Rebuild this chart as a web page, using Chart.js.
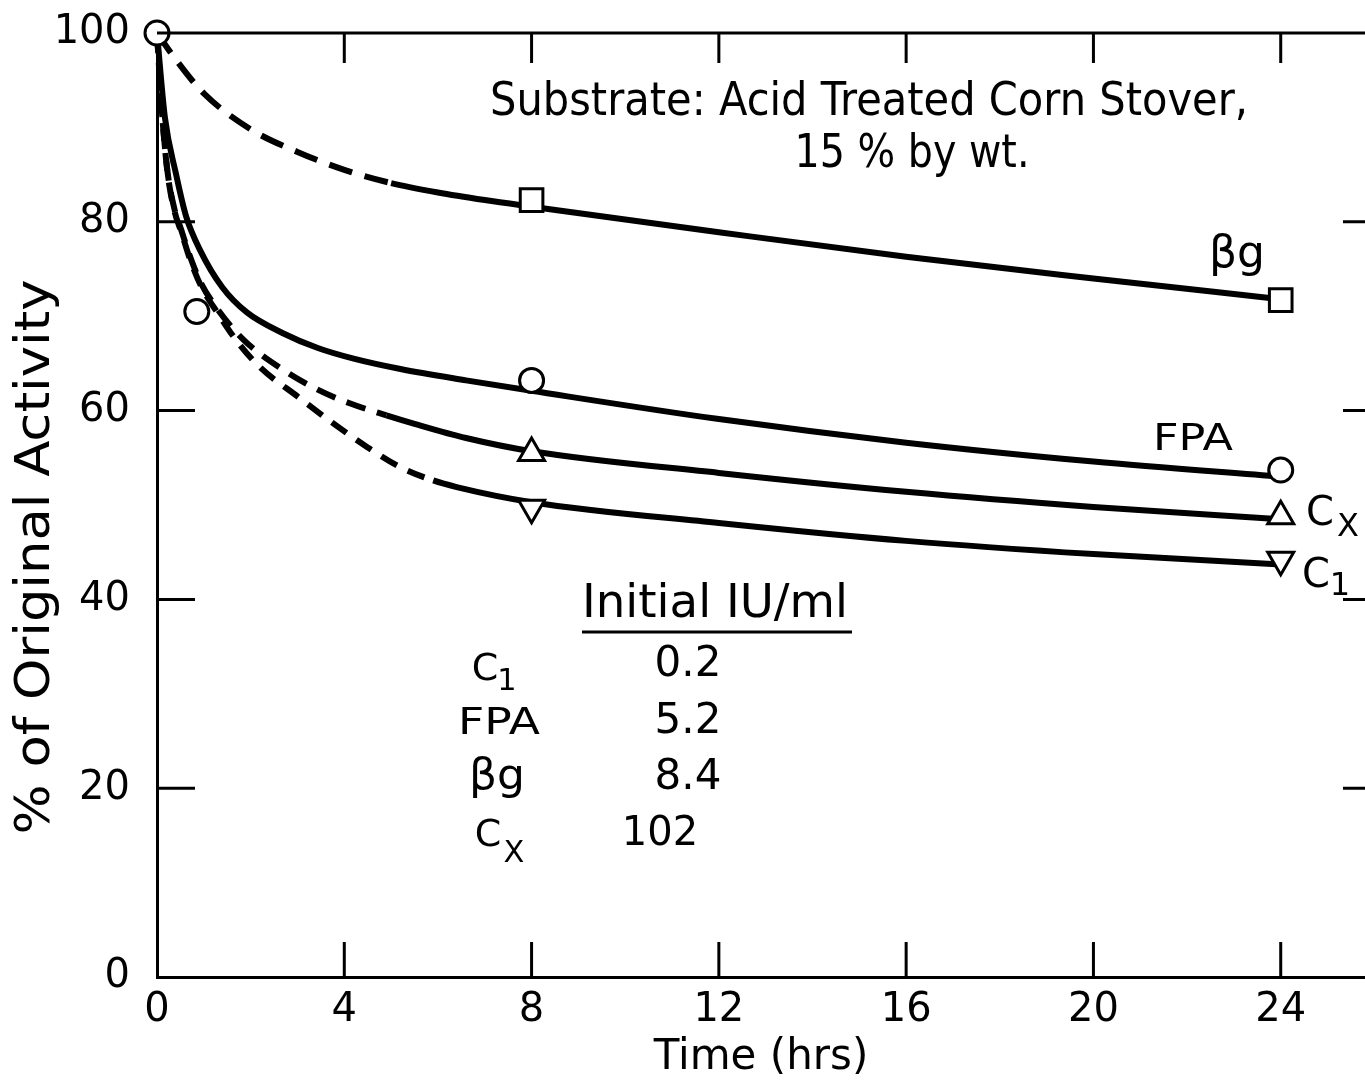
<!DOCTYPE html>
<html>
<head>
<meta charset="utf-8">
<title>Activity loss on acid treated corn stover</title>
<script src="https://cdn.jsdelivr.net/npm/chart.js@4.4.1/dist/chart.umd.min.js"></script>
<style>
  html, body { margin: 0; padding: 0; background: #fff; overflow: hidden; }
  #wrap { width: 1365px; height: 1087px; }
</style>
</head>
<body>
<div id="wrap"><canvas id="chart" width="1365" height="1087"></canvas></div>
<script>
/* axis ticks */
const xTicks = [0, 4, 8, 12, 16, 20, 24];
const yTicks = [0, 20, 40, 60, 80, 100];

/* measured points (open symbols), [hrs, % activity] */
const bgPoints  = [[8, 82.3], [24, 71.7]];
const fpaPoints = [[0, 100], [0.85, 70.5], [8, 63.2], [24, 53.7]];
const cxPoints  = [[8, 55.5], [24, 48.8]];
const c1Points  = [[8, 49.7], [24, 44.2]];

/* drawn curves */
const bgCurve  = [[0, 100], [0.4, 97.2], [1, 93.6], [2, 89.8], [3, 87.4], [4, 85.5], [5, 84.1], [6, 83.1],
                  [7, 82.3], [8, 81.6], [12, 78.9], [16, 76.3], [20, 74], [24, 71.8]];
const fpaCurve = [[0, 100], [0.17, 91], [0.4, 85.2], [0.62, 80.6], [0.93, 76.9], [1.39, 73.1], [1.92, 70.4],
                  [2.69, 68.2], [3.45, 66.6], [4.2, 65.5], [5.2, 64.4], [6.6, 63.2], [8, 62.1],
                  [12, 59.1], [16, 56.6], [20, 54.6], [24, 53]];
const cxCurve  = [[0, 100], [0.1, 92], [0.22, 85.5], [0.37, 81.4], [0.52, 79.1], [0.7, 76.4], [0.93, 73.6],
                  [1.3, 70.7], [1.85, 67.5], [2.7, 64.3], [3.4, 62.3], [4.1, 60.8], [4.9, 59.5], [5.5, 58.6],
                  [6.6, 57.1], [8, 55.7], [12, 53.4], [16, 51.4], [20, 49.8], [24, 48.5]];
const c1Curve  = [[0, 100], [0.1, 92], [0.22, 85.4], [0.37, 81.2], [0.52, 78.9], [0.7, 76.1], [0.93, 73.3],
                  [1.3, 70.3], [1.7, 67.4], [2.2, 64.6], [3, 61.5], [3.75, 58.7], [4.5, 56.1], [5.2, 54],
                  [5.9, 52.6], [6.4, 51.9], [8, 50.3], [12, 48.1], [16, 46.2], [20, 44.8], [24, 43.7]];

/* inset table */
const tableNames  = ['C1', 'FPA', 'βg', 'Cx'];
const tableValues = ['0.2', '5.2', '8.4', '102'];

const FONT = '"DejaVu Sans", sans-serif';
const toXY = arr => arr.map(p => ({ x: p[0], y: p[1] }));

function marker(data, style, radius, rotation) {
  return {
    data: toXY(data), showLine: false, order: 0, clip: false,
    pointStyle: style, pointRadius: radius, pointRotation: rotation || 0,
    pointBorderWidth: 3, pointBorderColor: '#000', pointBackgroundColor: '#fff'
  };
}

function curve(data, dashEnd, dash) {
  return {
    data: toXY(data), showLine: true, order: 1, clip: false,
    pointRadius: 0, borderColor: '#000', borderWidth: 6,
    cubicInterpolationMode: 'monotone',
    segment: {
      borderDash: ctx => (ctx.p1.parsed.x <= dashEnd ? dash : undefined)
    }
  };
}

// text helper, squeezes the text to a given width when asked
function put(ctx, txt, x, y, size, w, align) {
  ctx.save();
  ctx.font = size + 'px ' + FONT;
  ctx.fillStyle = '#000';
  ctx.textAlign = align || 'center';
  ctx.textBaseline = 'middle';
  let sx = 1;
  if (w) sx = w / ctx.measureText(txt).width;
  ctx.translate(x, y);
  ctx.scale(sx, 1);
  ctx.fillText(txt, 0, 0);
  ctx.restore();
}

// letter with a subscript
function sub(ctx, main, small, x, y, size, dx, dy) {
  put(ctx, main, x, y, size);
  put(ctx, small, x + dx, y + dy, size * 0.8);
}

const extras = {
  id: 'extras',
  afterDraw(chart) {
    const ctx = chart.ctx;
    const a = chart.chartArea;
    const sx = chart.scales.x, sy = chart.scales.y;
    ctx.save();
    ctx.strokeStyle = '#000';
    ctx.lineWidth = 3;
    ctx.beginPath();
    // top frame
    ctx.moveTo(a.left, a.top);
    ctx.lineTo(a.right, a.top);
    // inward ticks, top and bottom
    xTicks.forEach(v => {
      if (v === 0) return;
      const px = sx.getPixelForValue(v);
      ctx.moveTo(px, a.bottom); ctx.lineTo(px, a.bottom - 35);
      ctx.moveTo(px, a.top); ctx.lineTo(px, a.top + 30);
    });
    // inward ticks, left and right
    yTicks.forEach(v => {
      if (v === 0 || v === 100) return;
      const py = sy.getPixelForValue(v);
      ctx.moveTo(a.left, py); ctx.lineTo(a.left + 38, py);
      ctx.moveTo(a.right - 22, py); ctx.lineTo(a.right, py);
    });
    // underline of the table head
    ctx.moveTo(582, 632); ctx.lineTo(852, 632);
    ctx.stroke();
    ctx.restore();

    // y axis title
    ctx.save();
    ctx.translate(37, 557);
    ctx.rotate(-Math.PI / 2);
    put(ctx, '% of Original Activity', 0, 0, 48, 555);
    ctx.restore();

    put(ctx, 'Substrate: Acid Treated Corn Stover,', 869, 103, 46, 758);
    put(ctx, '15 % by wt.', 912, 155, 46, 235);

    // curve labels
    put(ctx, 'βg', 1237, 256, 44, 56);
    put(ctx, 'FPA', 1193, 440, 38, 80);
    sub(ctx, 'C', 'X', 1320, 515, 40, 28, 13);
    sub(ctx, 'C', '1', 1316, 577, 40, 24, 10);

    // inset table
    put(ctx, 'Initial IU/ml', 715, 605, 46, 266);
    const rowY = [665, 722, 778, 835];
    sub(ctx, 'C', '1', 485, 670, 38, 22, 12);
    put(ctx, tableNames[1], 499, 724, 38, 82);
    put(ctx, tableNames[2], 497, 778, 42, 56);
    sub(ctx, 'C', 'X', 488, 836, 38, 26, 18);
    tableValues.forEach((t, i) => {
      put(ctx, t, i === 3 ? 660 : 688, rowY[i], i === 3 ? 40 : 42);
    });
  }
};

new Chart(document.getElementById('chart'), {
  type: 'scatter',
  data: {
    datasets: [
      marker(bgPoints, 'rect', 16),
      marker(fpaPoints, 'circle', 12),
      marker(cxPoints, 'triangle', 15),
      marker(c1Points, 'triangle', 15, 180),
      curve(bgCurve, 5.2, [24, 13]),
      curve(fpaCurve, -1, []),
      curve(cxCurve, 5.3, [20, 12]),
      curve(c1Curve, 6.1, [18, 12])
    ]
  },
  options: {
    responsive: false,
    animation: false,
    layout: { autoPadding: false, padding: { top: 33, right: 0, left: 0, bottom: 0 } },
    plugins: { legend: { display: false }, tooltip: { enabled: false } },
    scales: {
      x: {
        type: 'linear', min: 0, max: 25.8,
        grid: { display: false, drawTicks: false },
        border: { display: true, width: 3, color: '#000' },
        afterBuildTicks: s => { s.ticks = xTicks.map(v => ({ value: v })); },
        afterFit: s => { s.height = 110; s.paddingLeft = 0; s.paddingRight = 0; },
        ticks: { color: '#000', font: { family: FONT, size: 40 }, padding: 10, maxRotation: 0, autoSkip: false },
        title: { display: true, text: 'Time (hrs)', color: '#000', font: { family: FONT, size: 42 }, padding: { top: 0, bottom: 4 } }
      },
      y: {
        min: 0, max: 100,
        grid: { display: false, drawTicks: false },
        border: { display: true, width: 3, color: '#000' },
        afterBuildTicks: s => { s.ticks = yTicks.map(v => ({ value: v })); },
        afterFit: s => { s.width = 157; s.paddingTop = 0; s.paddingBottom = 0; },
        ticks: { color: '#000', font: { family: FONT, size: 40 }, padding: 27 }
      }
    }
  },
  plugins: [extras]
});
</script>
</body>
</html>
